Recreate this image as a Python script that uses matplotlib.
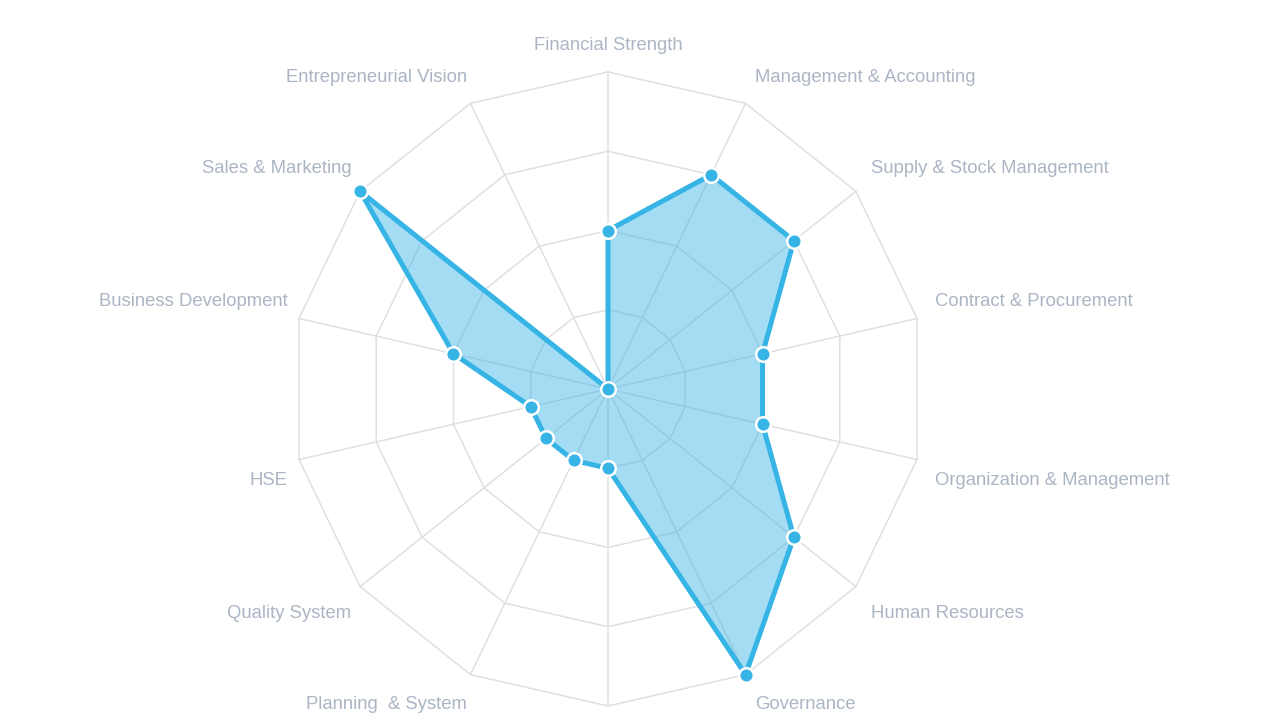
import numpy as np
import matplotlib
matplotlib.use("Agg")
import matplotlib.pyplot as plt

# ── Data ────────────────────────────────────────────────────────────────────
# the spoke pointing straight down has no visible label in the reference
CATEGORIES = [
    "Financial Strength", "Management & Accounting", "Supply & Stock Management",
    "Contract & Procurement", "Organization & Management", "Human Resources",
    "Governance", "", "Planning  & System", "Quality System",
    "HSE", "Business Development", "Sales & Marketing", "Entrepreneurial Vision",
]
SCORES = [2, 3, 3, 2, 2, 3, 4, 1, 1, 1, 1, 2, 4, 0]
RINGS = [1, 2, 3, 4]
MAX_SCORE = 4

# ── Style ───────────────────────────────────────────────────────────────────
LINE  = "#36b4e5"
GRID  = "#e0e0e0"
LABEL = "#abb5c4"

W, H = 1280, 720
CX, CY, R = 608, 389, 317   # centre and radius in pixels

fig = plt.figure(figsize=(12.8, 7.2), dpi=100)
ax = fig.add_axes([0, 0, 1, 1])
ax.set_xlim(-CX / R, (W - CX) / R)
ax.set_ylim(-(H - CY) / R, CY / R)
ax.axis("off")

n = len(CATEGORIES)
ang = np.arange(n) * 2 * np.pi / n
sx, sy = np.sin(ang), np.cos(ang)

# polygon grid rings and spokes
for ring in RINGS:
    f = ring / MAX_SCORE
    ax.plot(np.append(sx, sx[0]) * f, np.append(sy, sy[0]) * f,
            color=GRID, lw=1.1, zorder=1)
for x, y in zip(sx, sy):
    ax.plot([0, x], [0, y], color=GRID, lw=1.1, zorder=1)

# series
v = np.array(SCORES) / MAX_SCORE
px, py = sx * v, sy * v
ax.fill(px, py, color=LINE, alpha=0.45, lw=0, zorder=2)
ax.plot(np.append(px, px[0]), np.append(py, py[0]), color=LINE, lw=3.6,
        solid_joinstyle="round", zorder=3)
ax.plot(px, py, "o", ms=10.5, mfc=LINE, mec="white", mew=1.8, zorder=4)

# category labels
lr = (R + 15) / R
for lab, x, y in zip(CATEGORIES, sx, sy):
    if not lab:
        continue
    if abs(x) < 0.01:
        ha, dx = "center", 0
    elif x > 0:
        ha, dx = "left", 3 / R
    else:
        ha, dx = "right", 3 / R
    off = (13 + 3 * abs(x)) / R * np.sign(y) - 2 / R
    ax.text(x * lr + dx, y * lr + off, lab, ha=ha, va="center",
            fontsize=13.3, color=LABEL, family="Liberation Sans", zorder=5)

fig.savefig("out.png", dpi=100)
